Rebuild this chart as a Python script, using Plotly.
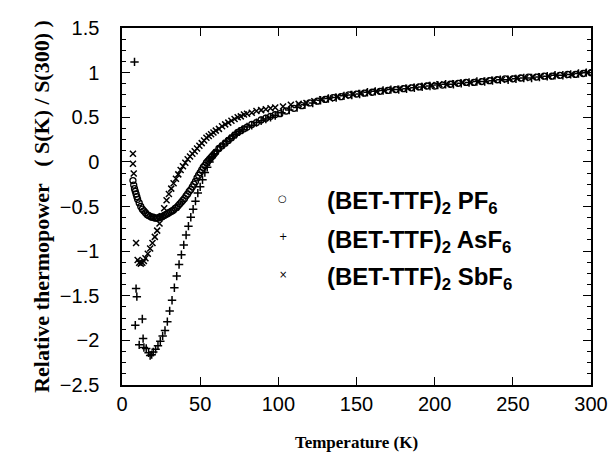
import plotly.graph_objects as go

# ---------------- data ----------------
pf6_T = [7, 7.5, 8, 8.5, 9, 9.5, 10, 11, 12, 13, 14, 15, 16, 17, 18, 19, 20, 21, 22, 23,
         24, 25, 26, 27, 28, 29, 30, 31, 32, 33, 34, 35, 36, 37, 38, 39, 40, 41, 42, 43,
         44, 45, 46, 47, 48, 49, 50, 51, 52, 53, 54, 55, 56, 57, 58, 59, 60, 62, 64, 66,
         68, 70, 72, 74, 76, 78, 80, 83, 86, 89, 92, 95, 98, 101, 105, 110, 115, 120, 125, 130,
         135, 140, 145, 150, 155, 160, 165, 170, 175, 180, 185, 190, 195, 200, 205, 210, 215, 220, 225, 230,
         235, 240, 245, 250, 255, 260, 265, 270, 275, 280, 285, 290, 295, 300]
pf6_S = [-0.21, -0.26, -0.30, -0.33, -0.36, -0.39, -0.42, -0.46, -0.50, -0.53, -0.55, -0.57, -0.59, -0.60, -0.61, -0.62, -0.62, -0.63, -0.63, -0.63,
         -0.62, -0.62, -0.61, -0.60, -0.59, -0.58, -0.57, -0.56, -0.55, -0.54, -0.52, -0.51, -0.49, -0.47, -0.45, -0.43, -0.41, -0.38, -0.36, -0.33,
         -0.31, -0.28, -0.25, -0.22, -0.18, -0.15, -0.12, -0.09, -0.06, -0.04, -0.01, 0.01, 0.03, 0.05, 0.07, 0.09, 0.11, 0.15, 0.18, 0.21,
         0.24, 0.27, 0.30, 0.33, 0.35, 0.37, 0.39, 0.42, 0.44, 0.47, 0.49, 0.51, 0.53, 0.54, 0.57, 0.60, 0.63, 0.66, 0.68, 0.70,
         0.72, 0.73, 0.75, 0.76, 0.77, 0.78, 0.79, 0.80, 0.81, 0.82, 0.83, 0.84, 0.85, 0.85, 0.86, 0.87, 0.88, 0.89, 0.89, 0.90,
         0.91, 0.92, 0.93, 0.93, 0.94, 0.95, 0.95, 0.96, 0.96, 0.97, 0.98, 0.98, 0.99, 1.00]

asf6_T = [8, 8.5, 9, 9.5, 11, 13, 13.5, 14, 15.5, 17, 18, 19, 20, 21.5, 23, 24.5, 26, 27.5, 29, 30.5,
          32, 33.5, 35, 36.5, 38, 39.5, 41, 42.5, 44, 45.5, 47, 48.5, 50, 51.5, 53, 54.5, 56, 57.5, 59, 61,
          63, 65, 67, 69, 71, 73, 75, 77, 80, 83, 86, 89, 92, 95, 98, 102, 107, 112, 117, 122,
          127, 132, 137, 142, 147, 152, 157, 162, 167, 172, 177, 182, 187, 192, 197, 202, 207, 212, 217, 222,
          227, 232, 237, 242, 247, 252, 257, 262, 267, 272, 277, 282, 287, 292, 297]
asf6_S = [1.12, -1.83, -1.42, -1.51, -2.05, -1.76, -1.98, -2.08, -2.09, -2.14, -2.17, -2.16, -2.13, -2.10, -2.06, -2.01, -1.95, -1.89, -1.79, -1.67,
          -1.55, -1.41, -1.28, -1.15, -1.04, -0.93, -0.82, -0.72, -0.62, -0.53, -0.44, -0.35, -0.28, -0.20, -0.12, -0.06, 0.00, 0.05, 0.09, 0.13,
          0.17, 0.20, 0.23, 0.26, 0.29, 0.31, 0.34, 0.36, 0.39, 0.41, 0.44, 0.46, 0.48, 0.50, 0.52, 0.55, 0.58, 0.61, 0.64, 0.66,
          0.69, 0.71, 0.72, 0.74, 0.75, 0.76, 0.78, 0.79, 0.80, 0.81, 0.81, 0.82, 0.83, 0.84, 0.85, 0.86, 0.87, 0.87, 0.88, 0.89,
          0.90, 0.90, 0.91, 0.92, 0.92, 0.93, 0.94, 0.94, 0.95, 0.96, 0.97, 0.97, 0.98, 0.99, 1.00]

sbf6_T = [7, 7, 7.5, 9, 10, 11, 12, 13, 14, 15, 16.5, 18, 19.5, 21, 22.5, 24, 25.5, 27, 28.5, 30,
          31.5, 33, 34.5, 36, 37.5, 39, 40.5, 42, 43.5, 45, 46.5, 48, 49.5, 51, 52.5, 54, 55.5, 57, 58.5, 60,
          62, 64, 66, 68, 70, 72, 74, 76, 78, 80, 83, 86, 89, 92, 95, 98, 103, 108, 113, 118,
          123, 128, 133, 138, 143, 148, 153, 158, 163, 168, 173, 178, 183, 188, 193, 198, 203, 208, 213, 218,
          223, 228, 233, 238, 243, 248, 253, 258, 263, 268, 273, 278, 283, 288, 293, 298]
sbf6_S = [0.09, -0.02, -0.13, -0.91, -1.10, -1.13, -1.14, -1.13, -1.11, -1.08, -1.03, -0.97, -0.91, -0.84, -0.77, -0.69, -0.61, -0.52, -0.43, -0.36,
          -0.30, -0.24, -0.19, -0.14, -0.09, -0.05, -0.01, 0.03, 0.06, 0.09, 0.12, 0.15, 0.18, 0.21, 0.24, 0.27, 0.29, 0.31, 0.33, 0.35,
          0.37, 0.40, 0.42, 0.44, 0.46, 0.48, 0.50, 0.51, 0.53, 0.54, 0.55, 0.57, 0.58, 0.59, 0.60, 0.61, 0.62, 0.64, 0.65, 0.66,
          0.68, 0.70, 0.71, 0.73, 0.74, 0.76, 0.77, 0.78, 0.79, 0.80, 0.81, 0.82, 0.83, 0.84, 0.85, 0.86, 0.87, 0.87, 0.88, 0.89,
          0.89, 0.90, 0.91, 0.92, 0.92, 0.93, 0.94, 0.94, 0.95, 0.96, 0.96, 0.97, 0.97, 0.98, 0.99, 1.00]

series_names = ["<b>(BET-TTF)<sub>2</sub> PF<sub>6</sub></b>",
                "<b>(BET-TTF)<sub>2</sub> AsF<sub>6</sub></b>",
                "<b>(BET-TTF)<sub>2</sub> SbF<sub>6</sub></b>"]
legend_glyphs = ["\u25cb", "+", "\u00d7"]

x_title = "<b>Temperature (K)</b>"
y_title = "<b>Relative thermopower\u00a0\u00a0\u00a0( S(K) / S(300) )</b>"

# ---------------- figure ----------------
fig = go.Figure()
fig.add_trace(go.Scatter(x=pf6_T, y=pf6_S, mode="markers", name=series_names[0],
                         showlegend=False,
                         marker=dict(symbol="circle-open", size=6, color="black",
                                     line=dict(width=1.3, color="black"))))
fig.add_trace(go.Scatter(x=asf6_T, y=asf6_S, mode="markers", name=series_names[1],
                         showlegend=False,
                         marker=dict(symbol="cross-thin", size=6, color="black",
                                     line=dict(width=1.5, color="black"))))
fig.add_trace(go.Scatter(x=sbf6_T, y=sbf6_S, mode="markers", name=series_names[2],
                         showlegend=False,
                         marker=dict(symbol="x-thin", size=6, color="black",
                                     line=dict(width=1.5, color="black"))))

tick_font = dict(family="Liberation Sans, Arial", size=20, color="black")

# main axes: frame, major ticks (inside, mirrored) and labels
fig.update_layout(
    xaxis=dict(range=[0, 300], dtick=50, showline=True, linecolor="black", linewidth=2,
               mirror="allticks", ticks="inside", ticklen=8, tickcolor="black",
               showgrid=False, tickfont=tick_font,
               title=dict(text=x_title, standoff=22,
                          font=dict(family="Liberation Serif, Times New Roman", size=17, color="black"))),
    yaxis=dict(range=[-2.5, 1.5], dtick=0.5, showline=True, linecolor="black", linewidth=2,
               mirror="allticks", ticks="inside", ticklen=8, tickcolor="black",
               showgrid=False, tickfont=tick_font, ticksuffix="\u00a0\u00a0\u00a0",
               minor=dict(ticks="inside", ticklen=4, dtick=0.125, tickcolor="black"),
               title=dict(text=y_title, standoff=4,
                          font=dict(family="Liberation Serif, Times New Roman", size=22, color="black"))),
    # overlay x axis carrying the 10 K minor ticks (bottom and mirrored on top)
    xaxis2=dict(range=[0, 300], overlaying="x", anchor="y", side="bottom", dtick=10,
                ticks="inside", ticklen=4, tickcolor="black", showticklabels=False,
                showline=False, showgrid=False, zeroline=False, mirror="allticks"),
)

# legend drawn as text entries (symbol glyph + label)
legend_rows_y = [0.510, 0.403, 0.297]
for glyph, name, yy in zip(legend_glyphs, series_names, legend_rows_y):
    fig.add_annotation(text=glyph, xref="paper", yref="paper", x=0.343, y=yy + 0.012,
                       xanchor="center", yanchor="middle", showarrow=False,
                       font=dict(family="DejaVu Sans", size=10, color="black"))
    fig.add_annotation(text=name, xref="paper", yref="paper", x=0.433, y=yy,
                       xanchor="left", yanchor="middle", showarrow=False,
                       font=dict(family="Liberation Sans, Arial", size=24, color="black"))

fig.update_layout(
    width=613, height=462,
    margin=dict(l=122, r=22, t=28, b=77, autoexpand=False),
    plot_bgcolor="white",
    showlegend=False,
)

fig.write_html("out.html", config={"displayModeBar": False},
               post_script="document.body.style.margin='0';")
